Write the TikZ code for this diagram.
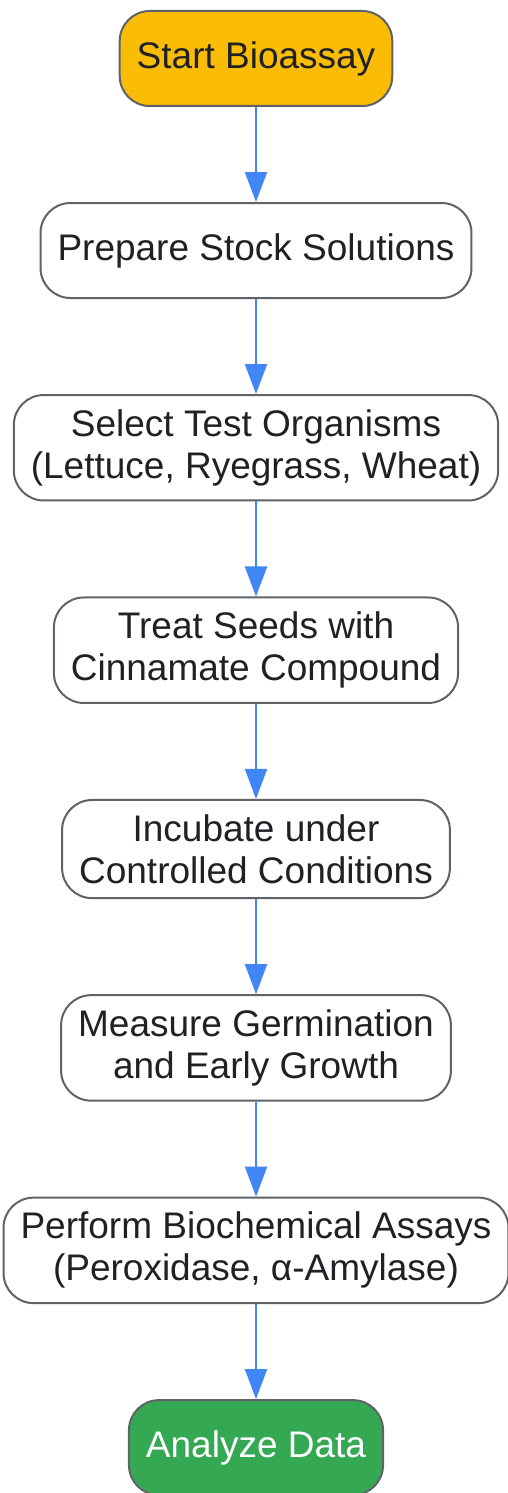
\documentclass[tikz,border=0pt]{standalone}
\usepackage{fontspec}
\setmainfont{Liberation Sans}
\usetikzlibrary{arrows.meta,positioning}
\definecolor{startfill}{HTML}{FBBC05}
\definecolor{endfill}{HTML}{34A853}
\definecolor{boxgray}{HTML}{5F6368}
\definecolor{flowblue}{HTML}{4285F4}
\definecolor{textdark}{HTML}{202124}

\begin{document}
\begin{tikzpicture}[node distance=95pt]
  \tikzstyle{stage}=[rectangle,rounded corners=30pt,draw=boxgray,line width=2pt,fill=white,text=textdark,font=\fontsize{37}{42}\selectfont,align=center,minimum height=95pt,inner xsep=17pt,inner ysep=14.5pt]
  \tikzstyle{flow}=[color=flowblue,line width=2pt,-{Triangle[width=22pt,length=30pt]}]

  \useasboundingbox (0,0) rectangle (508pt,-1493pt);

  \node[stage,fill=startfill,anchor=north](start) at (256pt,-10pt){Start Bioassay};
  \node[stage,below=of start](stock){Prepare Stock Solutions};
  \node[stage,below=of stock](select){Select Test Organisms\\(Lettuce, Ryegrass, Wheat)};
  \node[stage,below=of select](treat){Treat Seeds with\\Cinnamate Compound};
  \node[stage,below=of treat](incubate){Incubate under\\Controlled Conditions};
  \node[stage,below=of incubate](measure){Measure Germination\\and Early Growth};
  \node[stage,below=of measure](assays){Perform Biochemical Assays\\(Peroxidase, α-Amylase)};
  \node[stage,below=of assays,fill=endfill,text=white](analyze){Analyze Data};

  \path[flow]
  (start) edge (stock)
  (stock) edge (select)
  (select) edge (treat)
  (treat) edge (incubate)
  (incubate) edge (measure)
  (measure) edge (assays)
  (assays) edge (analyze);
\end{tikzpicture}
\end{document}
